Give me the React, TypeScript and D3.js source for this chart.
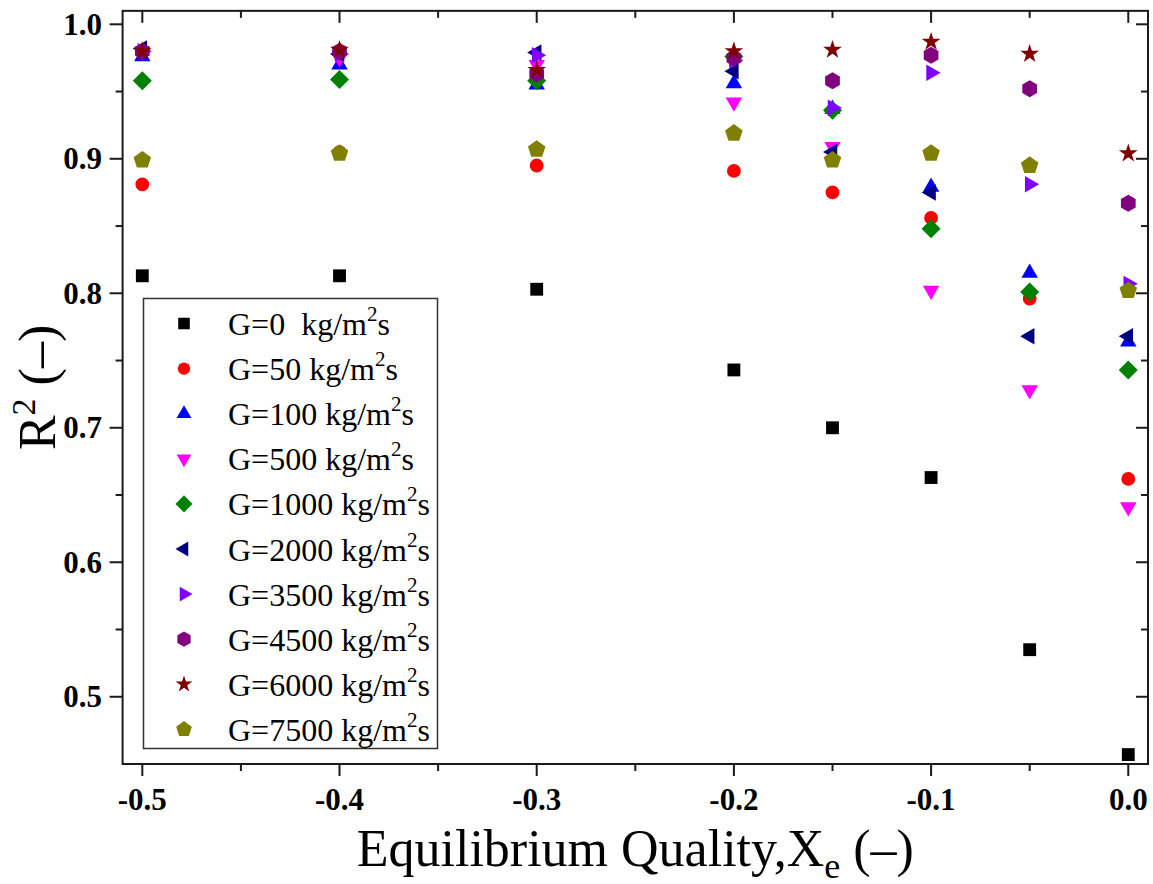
import React from "react";
import * as d3 from "d3";

const xValues = [-0.5, -0.4, -0.3, -0.2, -0.15, -0.1, -0.05, 0];

const seriesLabels = [
  "G=0  kg/m",
  "G=50 kg/m",
  "G=100 kg/m",
  "G=500 kg/m",
  "G=1000 kg/m",
  "G=2000 kg/m",
  "G=3500 kg/m",
  "G=4500 kg/m",
  "G=6000 kg/m",
  "G=7500 kg/m",
];

const g0 = [0.813, 0.813, 0.803, 0.743, 0.7, 0.663, 0.535, 0.457];
const g50 = [0.881, 0.905, 0.895, 0.891, 0.875, 0.856, 0.796, 0.662];
const g100 = [0.976, 0.97, 0.955, 0.956, 0.937, 0.879, 0.815, 0.764];
const g500 = [0.98, 0.975, 0.97, 0.942, 0.909, 0.802, 0.728, 0.641];
const g1000 = [0.958, 0.959, 0.958, 0.976, 0.936, 0.848, 0.801, 0.743];
const g2000 = [0.982, 0.978, 0.979, 0.965, 0.905, 0.875, 0.768, 0.768];
const g3500 = [0.98, 0.978, 0.977, 0.973, 0.938, 0.964, 0.881, 0.807];
const g4500 = [0.98, 0.98, 0.963, 0.975, 0.958, 0.977, 0.952, 0.867];
const g6000 = [0.98, 0.981, 0.966, 0.98, 0.981, 0.987, 0.978, 0.904];
const g7500 = [0.899, 0.904, 0.907, 0.919, 0.899, 0.904, 0.895, 0.802];

const seriesValues = [g0, g50, g100, g500, g1000, g2000, g3500, g4500, g6000, g7500];
const seriesColors = [
  "#000000", "#FF0000", "#0000FF", "#FF00FF", "#008000",
  "#000080", "#8000FF", "#800080", "#800000", "#808000",
];
const seriesShapes = [
  "square", "circle", "up", "down", "diamond",
  "left", "right", "hexagon", "star", "pentagon",
];

const xMajorTicks = [-0.5, -0.4, -0.3, -0.2, -0.1, 0.0];
const xMinorTicks = [-0.45, -0.35, -0.25, -0.15, -0.05];
const yMajorTicks = [0.5, 0.6, 0.7, 0.8, 0.9, 1.0];
const yMinorTicks = [0.55, 0.65, 0.75, 0.85, 0.95];

const W = 1153;
const H = 884;
const FONT = "'Liberation Serif', 'Times New Roman', 'DejaVu Serif', serif";

function polygon(n: number, r: number, rotDeg: number): string {
  const pts: [number, number][] = [];
  for (let i = 0; i < n; i++) {
    const a = ((rotDeg + (360 / n) * i) * Math.PI) / 180;
    pts.push([r * Math.sin(a), -r * Math.cos(a)]);
  }
  return "M" + pts.map((p) => p[0].toFixed(2) + "," + p[1].toFixed(2)).join("L") + "Z";
}

function shapePath(shape: string, s: number): string {
  switch (shape) {
    case "square":
      return d3.symbol(d3.symbolSquare, 165 * s * s)() as string;
    case "circle":
      return d3.symbol(d3.symbolCircle, 150 * s * s)() as string;
    case "up":
      return polygon(3, 9.5 * s, 0);
    case "down":
      return polygon(3, 9.5 * s, 180);
    case "left":
      return polygon(3, 9.5 * s, 270);
    case "right":
      return polygon(3, 9.5 * s, 90);
    case "diamond":
      return polygon(4, 9.5 * s, 0);
    case "hexagon":
      return polygon(6, 8.5 * s, 0);
    case "pentagon":
      return polygon(5, 9.2 * s, 0);
    case "star":
      return d3.symbol(d3.symbolStar, 110 * s * s)() as string;
    default:
      return "";
  }
}

export default function App() {
  const x = d3.scaleLinear().domain([-0.51, 0.01]).range([122.6, 1148]);
  const y = d3.scaleLinear().domain([0.45, 1.01]).range([764, 10.85]);

  const left = x(-0.51);
  const right = x(0.01);
  const top = y(1.01);
  const bottom = y(0.45);
  const axisColor = "#1a1a1a";

  const legendX = 143.5;
  const legendY = 298.5;
  const legendW = 294;
  const legendH = 450;
  const rowH = 45.1;

  return (
    <svg
      width={W}
      height={H}
      style={{ position: "absolute", left: 0, top: 0, background: "#fff" }}
      fontFamily={FONT}
    >
      <rect x={0} y={0} width={W} height={H} fill="#fff" />

      {/* frame */}
      <rect x={left} y={top} width={right - left} height={bottom - top} fill="none" stroke={axisColor} strokeWidth={2} />

      {/* x ticks */}
      {xMajorTicks.map((t) => (
        <g key={"xm" + t}>
          <line x1={x(t)} x2={x(t)} y1={bottom} y2={bottom + 12} stroke={axisColor} strokeWidth={2} />
          <line x1={x(t)} x2={x(t)} y1={top} y2={top + 12} stroke={axisColor} strokeWidth={2} />
          <text x={x(t)} y={810} textAnchor="middle" fontSize={31} fontWeight="bold" fill="#000">
            {t.toFixed(1)}
          </text>
        </g>
      ))}
      {xMinorTicks.map((t) => (
        <g key={"xn" + t}>
          <line x1={x(t)} x2={x(t)} y1={bottom} y2={bottom + 7} stroke={axisColor} strokeWidth={2} />
          <line x1={x(t)} x2={x(t)} y1={top} y2={top + 7} stroke={axisColor} strokeWidth={2} />
        </g>
      ))}

      {/* y ticks */}
      {yMajorTicks.map((t) => (
        <g key={"ym" + t}>
          <line x1={left - 13} x2={left} y1={y(t)} y2={y(t)} stroke={axisColor} strokeWidth={2} />
          <line x1={right - 12} x2={right} y1={y(t)} y2={y(t)} stroke={axisColor} strokeWidth={2} />
          <text x={102} y={y(t) + 10.5} textAnchor="end" fontSize={31} fontWeight="bold" fill="#000">
            {t.toFixed(1)}
          </text>
        </g>
      ))}
      {yMinorTicks.map((t) => (
        <g key={"yn" + t}>
          <line x1={left - 7} x2={left} y1={y(t)} y2={y(t)} stroke={axisColor} strokeWidth={2} />
          <line x1={right - 7} x2={right} y1={y(t)} y2={y(t)} stroke={axisColor} strokeWidth={2} />
        </g>
      ))}

      {/* axis titles */}
      <text x={(left + right) / 2} y={866} textAnchor="middle" fontSize={52} fill="#000">
        Equilibrium Quality,X
        <tspan fontSize={36} dy={12}>e</tspan>
        <tspan dy={-12}>{" (–)"}</tspan>
      </text>
      <text
        transform={`translate(55, ${(top + bottom) / 2}) rotate(-90)`}
        textAnchor="middle"
        fontSize={52}
        fill="#000"
      >
        R
        <tspan fontSize={34} dy={-20}>2</tspan>
        <tspan dy={20}>{" (–)"}</tspan>
      </text>

      {/* data */}
      {seriesValues.map((vals, si) => (
        <g key={"s" + si} fill={seriesColors[si]}>
          {vals.map((v, i) => (
            <path
              key={i}
              d={shapePath(seriesShapes[si], 1)}
              transform={`translate(${x(xValues[i])}, ${y(v)})`}
            />
          ))}
        </g>
      ))}

      {/* legend */}
      <rect x={legendX} y={legendY} width={legendW} height={legendH} fill="#fff" stroke="#333" strokeWidth={1.5} />
      {seriesLabels.map((lab, i) => {
        const cy = legendY + 25 + i * rowH;
        return (
          <g key={"l" + i}>
            <path d={shapePath(seriesShapes[i], 0.9)} transform={`translate(184, ${cy})`} fill={seriesColors[i]} />
            <text x={228} y={cy + 11.5} fontSize={32} fill="#000" style={{ whiteSpace: "pre" }}>
              {lab}
              <tspan fontSize={21} dy={-14}>2</tspan>
              <tspan dy={14}>s</tspan>
            </text>
          </g>
        );
      })}
    </svg>
  );
}
